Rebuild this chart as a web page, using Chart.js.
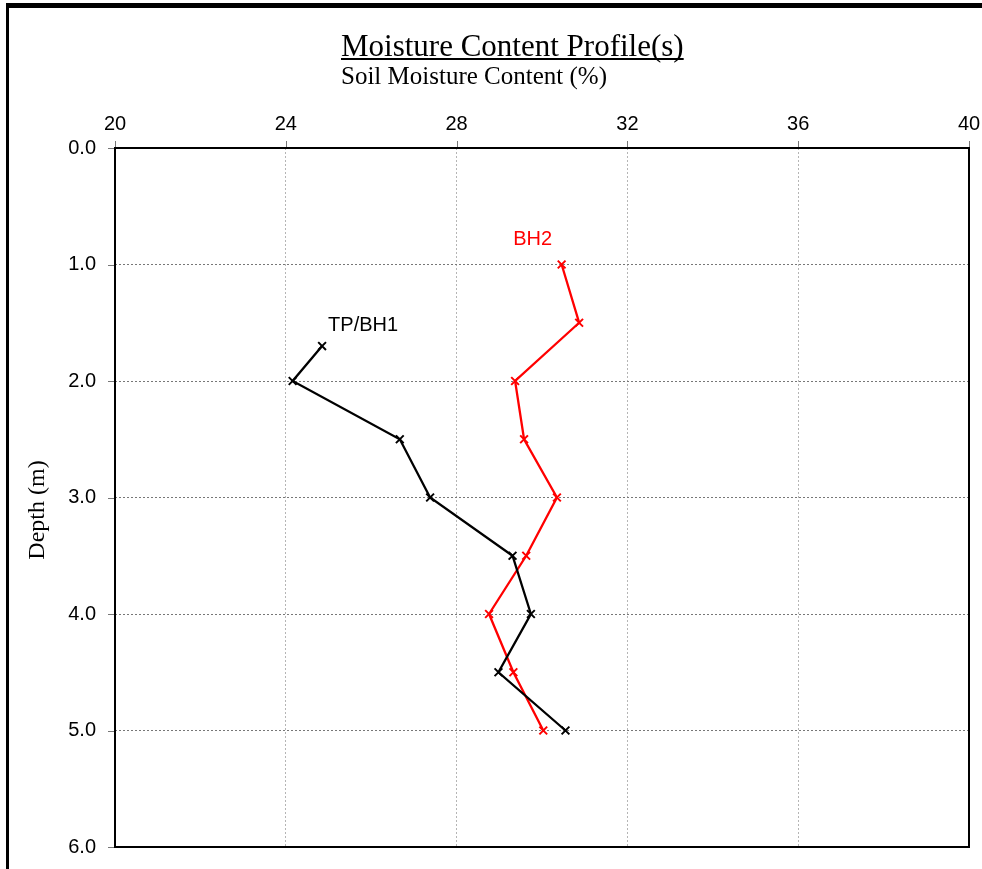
<!DOCTYPE html>
<html>
<head>
<meta charset="utf-8">
<title>Moisture Content Profile(s)</title>
<script src="https://cdn.jsdelivr.net/npm/chart.js@4"></script>
<style>
  html, body { margin: 0; padding: 0; background: #fff; }
  #wrap { width: 982px; height: 869px; }
</style>
</head>
<body>
<div id="wrap"><canvas id="chart1" width="982" height="869"></canvas></div>
<script>
// depths (m) and moisture content (%)
var depthBH1 = [1.7, 2.0, 2.5, 3.0, 3.5, 4.0, 4.5, 5.0];
var moistBH1 = [24.85, 24.16, 26.67, 27.38, 29.31, 29.74, 28.98, 30.55];
var depthBH2 = [1.0, 1.5, 2.0, 2.5, 3.0, 3.5, 4.0, 4.5, 5.0];
var moistBH2 = [30.46, 30.87, 29.37, 29.58, 30.35, 29.63, 28.76, 29.33, 30.03];
var xTicks = [20, 24, 28, 32, 36, 40];
var yTicks = [0, 1, 2, 3, 4, 5, 6];

var SANS = "'Liberation Sans', Arial, sans-serif";
var SERIF = "'Liberation Serif', 'Times New Roman', serif";

function toPoints(xs, ys) {
  var pts = [];
  for (let i = 0; i < xs.length; i++) {
    pts.push({ x: xs[i], y: ys[i] });
  }
  return pts;
}

function noOverflow(scale) {
  scale.paddingLeft = 0;
  scale.paddingRight = 0;
  scale.paddingTop = 0;
  scale.paddingBottom = 0;
}

// frame, titles, plot border, tick marks, series labels
var decor = {
  id: 'decor',
  beforeDraw: function (chart) {
    var ctx = chart.ctx;
    ctx.save();
    ctx.fillStyle = '#fff';
    ctx.fillRect(0, 0, chart.width, chart.height);
    ctx.fillStyle = '#000';
    ctx.fillRect(6, 3, chart.width - 6, 5);
    ctx.fillRect(6, 3, 3, chart.height - 3);

    ctx.textAlign = 'left';
    ctx.textBaseline = 'alphabetic';
    ctx.font = '31px ' + SERIF;
    var t = 'Moisture Content Profile(s)';
    ctx.fillText(t, 341, 56);
    var w = ctx.measureText(t).width;
    ctx.fillRect(341, 58, w, 2);
    ctx.font = '25px ' + SERIF;
    ctx.fillText('Soil Moisture Content (%)', 341, 84);

    ctx.translate(38, 510);
    ctx.rotate(-Math.PI / 2);
    ctx.textAlign = 'center';
    ctx.textBaseline = 'middle';
    ctx.font = '24px ' + SERIF;
    ctx.fillText('Depth (m)', 0, 0);
    ctx.restore();
  },
  afterDraw: function (chart) {
    var ctx = chart.ctx;
    var a = chart.chartArea;
    var xs = chart.scales.x, ys = chart.scales.y;
    ctx.save();
    ctx.strokeStyle = '#777';
    ctx.lineWidth = 1;
    ctx.beginPath();
    xTicks.forEach(function (v) {
      var px = Math.round(xs.getPixelForValue(v)) + 0.5;
      ctx.moveTo(px, a.top - 7);
      ctx.lineTo(px, a.top);
    });
    yTicks.forEach(function (v) {
      var py = Math.round(ys.getPixelForValue(v)) + 0.5;
      ctx.moveTo(a.left - 7, py);
      ctx.lineTo(a.left, py);
    });
    ctx.stroke();

    ctx.strokeStyle = '#000';
    ctx.lineWidth = 2;
    ctx.strokeRect(a.left, a.top, a.right - a.left, a.bottom - a.top);

    ctx.font = '20px ' + SANS;
    ctx.textBaseline = 'middle';
    ctx.textAlign = 'left';
    ctx.fillStyle = '#000';
    ctx.fillText('TP/BH1', xs.getPixelForValue(moistBH1[0]) + 6, ys.getPixelForValue(depthBH1[0]) - 21);
    ctx.fillStyle = '#ff0000';
    ctx.textAlign = 'center';
    ctx.fillText('BH2', xs.getPixelForValue(moistBH2[0]) - 29, ys.getPixelForValue(depthBH2[0]) - 25);
    ctx.restore();
  }
};

var ctx = document.getElementById('chart1');
var myChart = new Chart(ctx, {
  type: 'scatter',
  data: {
    datasets: [{
      label: 'TP/BH1',
      data: toPoints(moistBH1, depthBH1),
      showLine: true,
      borderColor: '#000',
      backgroundColor: '#000',
      borderWidth: 2.3,
      pointStyle: 'crossRot',
      pointRadius: 5.5,
      pointBorderWidth: 2,
      tension: 0
    }, {
      label: 'BH2',
      data: toPoints(moistBH2, depthBH2),
      showLine: true,
      borderColor: '#ff0000',
      backgroundColor: '#ff0000',
      borderWidth: 2.3,
      pointStyle: 'crossRot',
      pointRadius: 5.5,
      pointBorderWidth: 2,
      tension: 0
    }]
  },
  options: {
    responsive: false,
    animation: false,
    events: [],
    layout: { padding: { left: 0, right: 13, top: 0, bottom: 22 } },
    plugins: {
      legend: { display: false },
      title: { display: false },
      tooltip: { enabled: false }
    },
    scales: {
      x: {
        type: 'linear',
        position: 'top',
        min: 20,
        max: 40,
        afterFit: function (scale) { scale.height = 148; noOverflow(scale); },
        afterBuildTicks: function (scale) {
          scale.ticks = xTicks.map(function (v) { return { value: v }; });
        },
        ticks: {
          color: '#000',
          padding: 12,
          maxRotation: 0,
          font: { family: SANS, size: 20 }
        },
        grid: { color: '#b5b5b5', lineWidth: 1, drawTicks: false },
        border: { display: false, dash: [2, 2] }
      },
      y: {
        type: 'linear',
        reverse: true,
        min: 0,
        max: 6,
        afterFit: function (scale) { scale.width = 115; noOverflow(scale); },
        afterBuildTicks: function (scale) {
          scale.ticks = yTicks.map(function (v) { return { value: v }; });
        },
        ticks: {
          color: '#000',
          padding: 19,
          font: { family: SANS, size: 20 },
          callback: function (v) { return Number(v).toFixed(1); }
        },
        grid: { color: '#777', lineWidth: 1, drawTicks: false },
        border: { display: false, dash: [2, 2] }
      }
    }
  },
  plugins: [decor]
});
</script>
</body>
</html>
